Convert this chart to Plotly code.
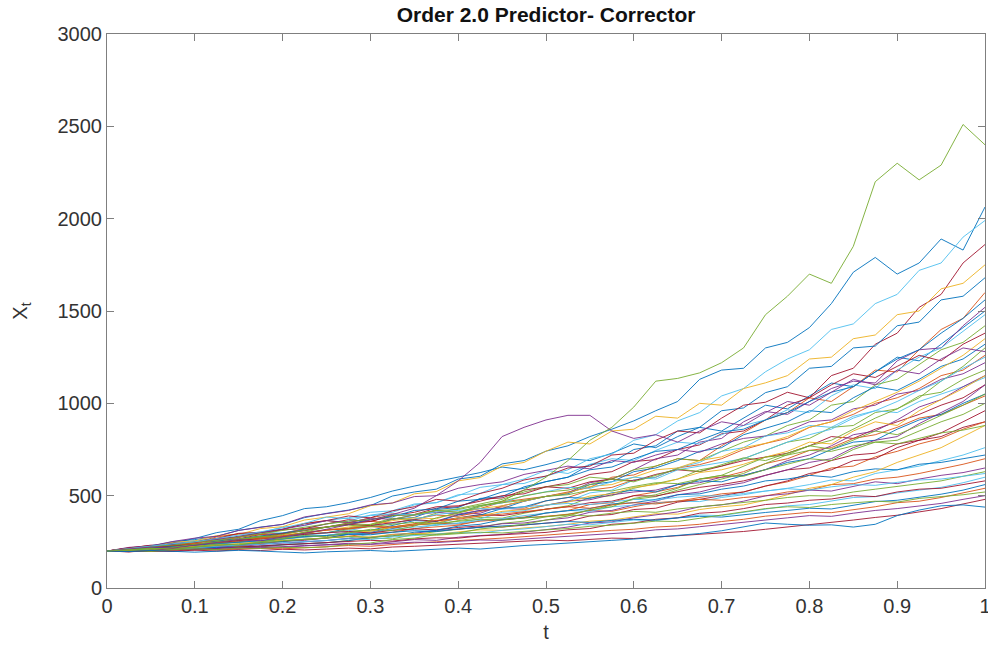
import plotly.graph_objects as go

# Time grid of the simulation (41 steps on [0, 1])
t = [0, 0.025, 0.05, 0.075, 0.1, 0.125, 0.15, 0.175, 0.2, 0.225, 0.25,
     0.275, 0.3, 0.325, 0.35, 0.375, 0.4, 0.425, 0.45, 0.475, 0.5,
     0.525, 0.55, 0.575, 0.6, 0.625, 0.65, 0.675, 0.7, 0.725, 0.75,
     0.775, 0.8, 0.825, 0.85, 0.875, 0.9, 0.925, 0.95, 0.975, 1.0]

x_tickvals = [0, 0.1, 0.2, 0.3, 0.4, 0.5, 0.6, 0.7, 0.8, 0.9, 1.0]
x_ticktext = ["0", "0.1", "0.2", "0.3", "0.4", "0.5", "0.6", "0.7", "0.8", "0.9", "1"]
y_tickvals = [0, 500, 1000, 1500, 2000, 2500, 3000]

# Simulated sample paths X_t
path_01 = [200, 213, 226, 251, 262, 280, 312, 330, 344, 381, 404, 422, 446, 498, 520, 535, 590, 605, 672, 690, 741, 770, 820, 860, 905, 960, 1010, 1130, 1180, 1190, 1300, 1330, 1410, 1540, 1710, 1790, 1700, 1760, 1890, 1830, 2063]
path_02 = [200, 210, 229, 236, 258, 266, 293, 300, 330, 338, 365, 380, 410, 418, 455, 462, 505, 512, 560, 566, 606, 640, 700, 725, 800, 830, 905, 950, 1040, 1080, 1171, 1240, 1290, 1400, 1430, 1540, 1590, 1720, 1760, 1900, 1990]
path_03 = [200, 212, 218, 236, 240, 262, 266, 290, 294, 320, 330, 352, 360, 392, 398, 432, 440, 480, 488, 530, 548, 570, 615, 630, 685, 695, 750, 775, 835, 850, 910, 990, 1030, 1150, 1190, 1320, 1380, 1520, 1590, 1760, 1860]
path_04 = [200, 216, 224, 248, 255, 284, 290, 322, 332, 368, 384, 402, 446, 460, 510, 522, 580, 598, 660, 680, 741, 790, 780, 850, 860, 930, 920, 1000, 990, 1080, 1111, 1150, 1240, 1250, 1350, 1370, 1480, 1500, 1620, 1650, 1750]
path_05 = [200, 210, 206, 230, 228, 250, 247, 272, 270, 292, 299, 322, 335, 372, 382, 425, 436, 485, 495, 548, 576, 600, 668, 680, 750, 770, 850, 870, 960, 975, 1058, 1090, 1190, 1200, 1300, 1310, 1420, 1440, 1560, 1580, 1680]
path_06 = [200, 218, 230, 225, 248, 276, 294, 290, 318, 350, 365, 352, 380, 402, 395, 418, 410, 430, 466, 480, 496, 520, 545, 600, 612, 660, 700, 690, 770, 840, 910, 950, 1030, 1010, 1090, 1180, 1170, 1290, 1400, 1460, 1600]
path_07 = [200, 210, 204, 198, 212, 226, 222, 236, 252, 258, 271, 292, 300, 332, 340, 362, 398, 405, 445, 470, 496, 515, 570, 590, 640, 700, 720, 790, 810, 900, 956, 940, 1010, 1080, 1120, 1110, 1230, 1290, 1300, 1420, 1520]
path_08 = [200, 214, 220, 240, 236, 258, 280, 300, 298, 320, 347, 362, 395, 410, 450, 462, 500, 545, 560, 590, 637, 620, 670, 700, 690, 745, 790, 780, 830, 880, 910, 965, 950, 1040, 1100, 1080, 1180, 1250, 1300, 1390, 1480]
path_09 = [200, 206, 222, 218, 236, 254, 260, 282, 278, 302, 314, 325, 345, 378, 368, 405, 430, 455, 480, 520, 548, 560, 600, 590, 640, 660, 700, 690, 740, 790, 823, 880, 910, 990, 1010, 1100, 1130, 1210, 1290, 1330, 1420]
path_10 = [200, 214, 232, 228, 250, 268, 296, 302, 318, 348, 365, 390, 380, 418, 440, 480, 470, 512, 540, 585, 606, 650, 660, 720, 730, 800, 850, 840, 920, 990, 1006, 1060, 1030, 1100, 1160, 1140, 1200, 1260, 1230, 1320, 1380]
path_11 = [200, 204, 216, 226, 220, 235, 252, 248, 266, 280, 284, 302, 312, 340, 365, 360, 395, 420, 430, 470, 496, 510, 560, 575, 630, 650, 690, 740, 760, 830, 866, 900, 960, 950, 1030, 1090, 1070, 1130, 1200, 1240, 1320]
path_12 = [200, 212, 226, 230, 248, 252, 274, 290, 296, 320, 330, 345, 362, 350, 372, 395, 388, 415, 440, 432, 472, 490, 530, 545, 585, 600, 650, 668, 700, 750, 783, 810, 870, 900, 940, 1000, 1030, 1080, 1150, 1180, 1260]
path_13 = [200, 220, 228, 252, 270, 280, 312, 330, 345, 385, 404, 420, 450, 460, 495, 500, 540, 560, 575, 615, 637, 660, 645, 690, 680, 720, 750, 735, 780, 810, 823, 850, 900, 910, 970, 990, 1050, 1070, 1130, 1160, 1220]
path_14 = [200, 212, 214, 230, 238, 242, 260, 270, 268, 292, 299, 315, 308, 330, 345, 340, 365, 382, 378, 405, 427, 445, 490, 500, 540, 565, 590, 640, 660, 700, 745, 790, 810, 870, 880, 950, 970, 1040, 1060, 1130, 1180]
path_15 = [200, 207, 203, 212, 220, 216, 230, 242, 236, 250, 257, 270, 292, 300, 318, 345, 352, 375, 410, 418, 449, 470, 515, 530, 585, 600, 650, 680, 740, 760, 823, 840, 880, 870, 930, 960, 950, 1010, 1050, 1090, 1140]
path_16 = [200, 216, 220, 242, 246, 268, 275, 300, 315, 322, 347, 370, 360, 392, 410, 440, 445, 470, 500, 510, 548, 540, 575, 590, 580, 615, 640, 630, 660, 690, 709, 730, 770, 820, 810, 860, 900, 940, 990, 1030, 1100]
path_17 = [200, 208, 224, 236, 232, 254, 266, 282, 300, 312, 330, 345, 372, 385, 420, 428, 470, 480, 520, 540, 576, 600, 640, 655, 700, 740, 750, 800, 845, 860, 910, 950, 1010, 1060, 1090, 1170, 1240, 1290, 1380, 1460, 1560]
path_18 = [200, 204, 212, 208, 222, 230, 226, 242, 250, 262, 271, 280, 296, 302, 322, 330, 340, 365, 372, 384, 406, 420, 452, 462, 500, 520, 545, 590, 600, 630, 674, 700, 745, 760, 810, 830, 870, 920, 940, 990, 1040]
path_19 = [200, 210, 218, 224, 240, 246, 264, 270, 290, 298, 314, 330, 340, 365, 380, 375, 410, 430, 445, 470, 496, 515, 550, 560, 600, 640, 650, 690, 710, 760, 783, 820, 870, 900, 960, 1010, 1060, 1120, 1190, 1260, 1350]
path_20 = [200, 214, 222, 238, 250, 262, 280, 300, 318, 340, 365, 355, 378, 372, 395, 410, 400, 420, 432, 425, 449, 470, 478, 505, 520, 530, 560, 570, 600, 610, 641, 690, 720, 770, 830, 850, 910, 980, 1020, 1090, 1150]
path_21 = [200, 198, 206, 212, 208, 218, 226, 222, 234, 240, 245, 258, 270, 266, 290, 305, 318, 330, 350, 362, 386, 400, 420, 450, 480, 495, 530, 560, 590, 620, 674, 720, 770, 800, 860, 920, 970, 1030, 1120, 1200, 1300]
path_22 = [200, 208, 214, 228, 232, 242, 256, 262, 278, 285, 299, 310, 336, 350, 372, 398, 410, 445, 460, 500, 521, 545, 540, 575, 600, 590, 640, 660, 680, 700, 745, 790, 830, 860, 920, 960, 1010, 1070, 1120, 1190, 1250]
path_23 = [200, 210, 206, 220, 236, 244, 260, 275, 290, 310, 330, 345, 338, 355, 370, 362, 380, 398, 392, 410, 427, 440, 462, 470, 500, 498, 520, 545, 560, 580, 610, 640, 650, 690, 720, 730, 780, 800, 820, 870, 900]
path_24 = [200, 206, 200, 214, 222, 218, 232, 246, 252, 264, 271, 290, 298, 322, 345, 350, 378, 395, 430, 440, 472, 490, 485, 515, 530, 520, 560, 580, 575, 610, 641, 680, 700, 750, 790, 800, 860, 910, 940, 1000, 1050]
path_25 = [200, 212, 218, 230, 242, 238, 256, 272, 284, 296, 314, 320, 332, 325, 340, 352, 346, 362, 370, 380, 386, 398, 420, 415, 440, 462, 470, 490, 510, 520, 552, 575, 610, 650, 660, 710, 740, 780, 810, 860, 900]
path_26 = [200, 207, 212, 222, 228, 240, 246, 258, 266, 278, 284, 300, 308, 330, 345, 352, 380, 390, 415, 425, 449, 465, 498, 510, 545, 560, 590, 625, 640, 670, 709, 740, 790, 780, 850, 900, 880, 960, 1020, 1080, 1150]
path_27 = [200, 204, 210, 206, 218, 226, 230, 238, 244, 250, 257, 268, 272, 290, 296, 312, 318, 330, 348, 352, 368, 380, 410, 420, 450, 470, 505, 520, 550, 570, 610, 640, 680, 700, 760, 800, 820, 890, 950, 1010, 1100]
path_28 = [200, 212, 226, 232, 250, 258, 276, 290, 312, 330, 347, 362, 370, 392, 398, 420, 425, 448, 460, 475, 496, 505, 530, 525, 550, 570, 565, 590, 610, 605, 641, 670, 700, 690, 750, 790, 800, 850, 900, 940, 1000]
path_29 = [200, 209, 214, 220, 232, 240, 246, 258, 264, 276, 284, 296, 300, 318, 330, 340, 350, 366, 375, 392, 406, 420, 415, 440, 448, 460, 470, 468, 490, 505, 525, 540, 560, 585, 580, 620, 640, 660, 690, 720, 760]
path_30 = [200, 210, 216, 226, 236, 244, 258, 266, 280, 290, 299, 306, 298, 312, 320, 315, 328, 336, 330, 342, 350, 362, 390, 398, 425, 432, 465, 480, 500, 520, 552, 580, 620, 640, 690, 700, 760, 800, 840, 900, 960]
path_31 = [200, 204, 198, 208, 214, 220, 216, 228, 234, 240, 245, 256, 275, 282, 302, 312, 335, 345, 370, 380, 406, 418, 430, 455, 462, 480, 505, 510, 535, 552, 580, 590, 610, 600, 630, 645, 640, 670, 680, 700, 720]
path_32 = [200, 208, 218, 214, 230, 244, 250, 266, 280, 298, 314, 322, 335, 330, 350, 366, 372, 390, 400, 412, 427, 440, 432, 450, 462, 455, 470, 480, 475, 490, 499, 520, 530, 560, 565, 590, 600, 620, 645, 670, 700]
path_33 = [200, 205, 214, 218, 226, 232, 240, 252, 258, 266, 271, 280, 276, 290, 296, 292, 305, 315, 312, 325, 333, 345, 362, 368, 385, 402, 400, 425, 440, 450, 475, 505, 540, 560, 600, 630, 680, 720, 760, 820, 880]
path_34 = [200, 203, 198, 206, 212, 208, 218, 224, 220, 228, 233, 242, 238, 252, 262, 258, 275, 284, 290, 302, 315, 330, 352, 358, 380, 395, 412, 440, 450, 470, 499, 510, 530, 525, 550, 575, 565, 590, 610, 625, 650]
path_35 = [200, 212, 222, 218, 236, 250, 262, 276, 290, 312, 330, 340, 332, 345, 355, 350, 362, 372, 368, 380, 386, 395, 390, 405, 415, 410, 428, 440, 450, 462, 475, 490, 500, 498, 520, 535, 550, 565, 580, 605, 630]
path_36 = [200, 206, 212, 208, 218, 226, 232, 236, 246, 250, 257, 266, 262, 276, 284, 290, 300, 298, 312, 320, 333, 345, 342, 355, 368, 365, 380, 395, 392, 410, 430, 445, 452, 470, 490, 495, 515, 530, 545, 570, 600]
path_37 = [200, 196, 204, 210, 206, 216, 222, 228, 234, 238, 245, 252, 258, 254, 266, 272, 270, 282, 288, 294, 301, 315, 322, 345, 352, 372, 380, 405, 412, 430, 452, 460, 475, 482, 500, 495, 520, 535, 540, 560, 580]
path_38 = [200, 208, 214, 224, 230, 236, 248, 256, 266, 278, 284, 292, 288, 302, 310, 306, 320, 330, 336, 342, 350, 360, 355, 366, 372, 368, 380, 388, 384, 398, 409, 420, 432, 428, 450, 468, 475, 492, 508, 530, 560]
path_39 = [200, 203, 198, 204, 210, 206, 212, 216, 212, 218, 222, 230, 226, 236, 244, 250, 256, 262, 270, 278, 287, 296, 302, 312, 318, 330, 336, 345, 360, 372, 389, 398, 410, 408, 425, 440, 462, 470, 490, 515, 540]
path_40 = [200, 206, 214, 210, 222, 230, 238, 244, 256, 262, 271, 278, 274, 284, 290, 286, 296, 302, 298, 308, 315, 322, 334, 340, 352, 362, 360, 378, 392, 410, 430, 440, 436, 452, 460, 470, 465, 485, 495, 505, 520]
path_41 = [200, 198, 204, 212, 208, 214, 220, 218, 226, 230, 233, 238, 236, 242, 248, 246, 254, 260, 258, 266, 272, 280, 290, 296, 302, 315, 320, 332, 345, 356, 370, 380, 392, 388, 405, 420, 430, 445, 458, 480, 500]
path_42 = [200, 196, 202, 198, 205, 200, 207, 203, 210, 206, 211, 216, 212, 222, 226, 232, 236, 242, 246, 252, 259, 256, 262, 270, 268, 276, 284, 288, 296, 306, 318, 330, 342, 352, 368, 382, 394, 412, 430, 455, 480]
path_43 = [200, 214, 224, 240, 250, 268, 282, 304, 326, 350, 384, 376, 392, 400, 396, 412, 420, 430, 426, 440, 449, 458, 452, 468, 480, 476, 492, 500, 498, 512, 525, 538, 530, 548, 560, 556, 572, 585, 590, 605, 620]
path_44 = [200, 204, 198, 208, 212, 208, 216, 214, 220, 218, 222, 236, 244, 262, 270, 290, 298, 320, 330, 345, 368, 390, 425, 440, 485, 505, 540, 590, 610, 660, 709, 720, 745, 740, 770, 790, 780, 810, 840, 855, 880]
path_hi = [200, 208, 215, 210, 224, 238, 233, 249, 266, 284, 278, 298, 318, 311, 335, 380, 405, 440, 470, 530, 600, 690, 800, 870, 980, 1120, 1135, 1165, 1220, 1300, 1480, 1580, 1700, 1650, 1850, 2200, 2300, 2210, 2290, 2510, 2400]
path_bump = [200, 210, 222, 216, 232, 247, 262, 256, 275, 296, 318, 342, 368, 398, 432, 500, 580, 680, 820, 870, 910, 935, 935, 850, 810, 830, 790, 850, 900, 880, 950, 1010, 990, 1060, 1130, 1100, 1180, 1160, 1240, 1300, 1280]
path_early = [200, 214, 229, 245, 268, 300, 318, 365, 392, 430, 440, 462, 490, 525, 552, 575, 598, 625, 655, 640, 668, 700, 690, 730, 780, 760, 820, 870, 850, 920, 990, 970, 1040, 1110, 1090, 1170, 1250, 1230, 1320, 1410, 1500]
path_early2 = [200, 210, 206, 222, 236, 248, 262, 280, 274, 300, 330, 350, 342, 372, 398, 420, 410, 445, 470, 498, 520, 530, 560, 590, 575, 610, 645, 630, 668, 705, 690, 730, 770, 752, 800, 850, 830, 880, 935, 990, 1050]
path_lo = [200, 197, 203, 198, 194, 199, 204, 200, 193, 190, 196, 200, 203, 198, 205, 210, 216, 211, 222, 230, 236, 242, 250, 258, 265, 275, 285, 295, 310, 330, 352, 345, 340, 342, 330, 345, 392, 422, 445, 450, 438]

# MATLAB default line color order
color_order = ["#0072BD", "#D95319", "#EDB120", "#7E2F8E", "#77AC30", "#4DBEEE", "#A2142F"]

paths = [
    (path_early, 0), (path_01, 0), (path_02, 5), (path_03, 6), (path_04, 2),
    (path_05, 0), (path_06, 1), (path_07, 3), (path_08, 5), (path_09, 4),
    (path_10, 6), (path_11, 0), (path_12, 1), (path_13, 3), (path_14, 4),
    (path_15, 5), (path_16, 6), (path_17, 0), (path_18, 1), (path_19, 2),
    (path_20, 3), (path_21, 4), (path_22, 5), (path_23, 6), (path_24, 0),
    (path_25, 1), (path_26, 2), (path_27, 3), (path_28, 4), (path_29, 5),
    (path_30, 6), (path_31, 0), (path_32, 1), (path_33, 2), (path_34, 3),
    (path_35, 4), (path_36, 5), (path_37, 6), (path_38, 0), (path_39, 1),
    (path_40, 4), (path_41, 3), (path_42, 6), (path_43, 5), (path_44, 4),
    (path_early2, 4), (path_bump, 3), (path_lo, 0), (path_hi, 4),
]

fig = go.Figure()
for values, ci in paths:
    fig.add_trace(go.Scatter(
        x=t, y=values, mode="lines",
        line=dict(color=color_order[ci], width=0.9),
        hoverinfo="skip", showlegend=False,
    ))

font_family = "Liberation Sans, Arial, sans-serif"
axis_common = dict(
    showline=True, linecolor="#7f7f7f", linewidth=1, mirror="ticks",
    ticks="inside", ticklen=7, tickcolor="#7f7f7f", tickwidth=1,
    showgrid=False, zeroline=False, automargin=False,
    tickfont=dict(family=font_family, size=20, color="#333333"),
)

fig.update_layout(
    width=988, height=653,
    margin=dict(l=107, r=3, t=34, b=65),
    paper_bgcolor="white", plot_bgcolor="white",
    title=dict(
        text="<b>Order 2.0 Predictor- Corrector</b>",
        x=0.5527, xanchor="center", y=0.989, yanchor="top",
        font=dict(family=font_family, size=21, color="#111111"),
    ),
    xaxis=dict(
        range=[0, 1], tickmode="array", tickvals=x_tickvals, ticktext=x_ticktext,
        ticklabeloverflow="allow",
        title=dict(text="t", standoff=8, font=dict(family=font_family, size=20, color="#333333")),
        **axis_common,
    ),
    yaxis=dict(
        range=[0, 3000], tickmode="array", tickvals=y_tickvals,
        title=dict(text="X<sub>t</sub>", standoff=24, font=dict(family=font_family, size=20, color="#333333")),
        **axis_common,
    ),
)

fig.write_html("out.html")
